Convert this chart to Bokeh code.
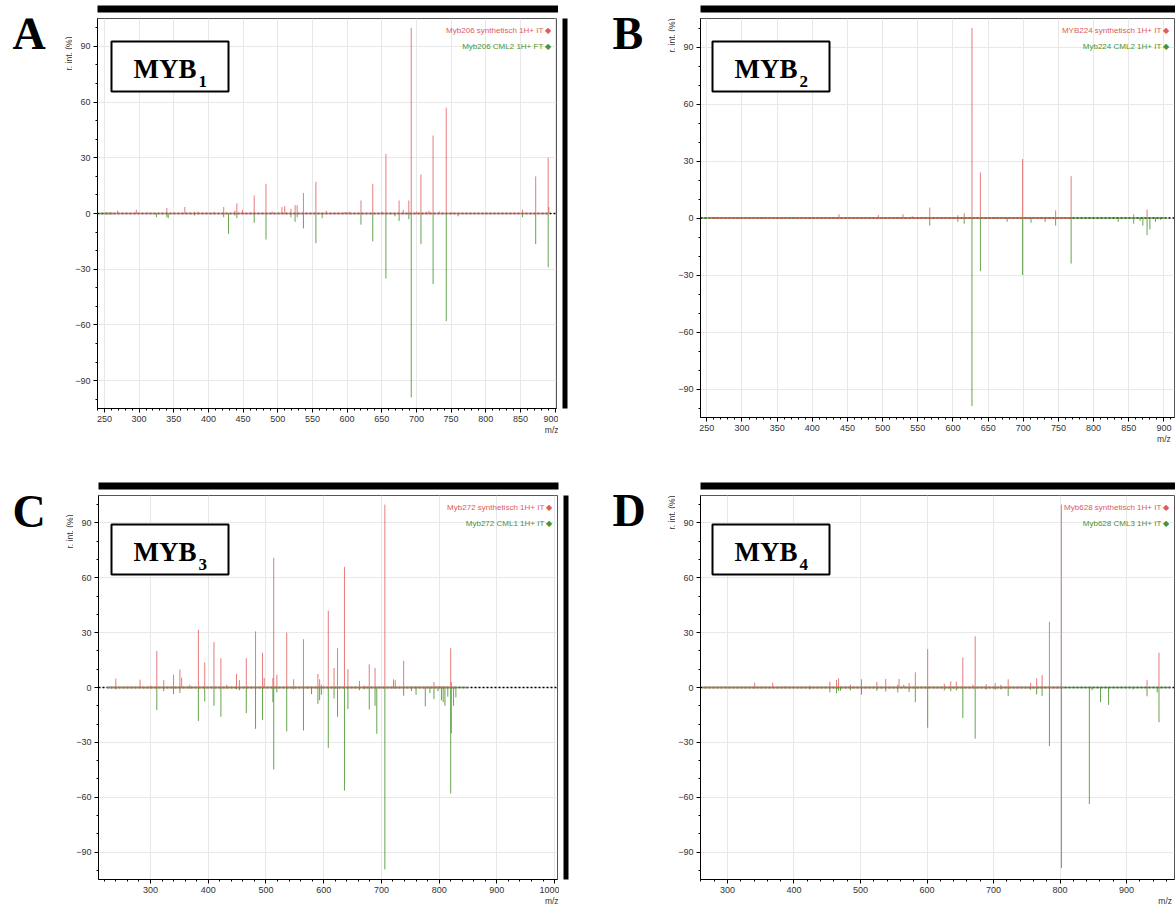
import math
from bokeh.plotting import figure
from bokeh.models import (ColumnDataSource, Range1d, SingleIntervalTicker, FixedTicker, Span,
                          Label, BoxAnnotation, LinearAxis)
from bokeh.layouts import column, row
from bokeh.embed import file_html
from bokeh.resources import INLINE

# ---------------- data (m/z, relative intensity %) ----------------
# Panel A  MYB1 (Myb206)
A_MZ  = [245, 269, 296, 312, 325, 340, 342, 350, 366, 373, 380, 385, 408, 422, 429, 438, 441, 449,
         466, 483, 492, 506, 510, 519, 525, 528, 537, 555, 564, 570, 584, 597, 603, 620, 637, 650,
         656, 669, 675, 681, 689, 692.5, 700, 706.5, 714, 718, 724, 733, 743, 752, 760, 853, 872,
         890, 891]
A_SYN = [0, 1.6, 2, 0.5, 0, 3, 0, 0.5, 3.5, 0.5, 1, 1, 0.8, 3.5, 0, 1.5, 5.5, 2,
         9.7, 16, 1, 3.5, 4, 2.5, 4.5, 4.5, 11, 17, 0, 1.5, 0.5, 0.8, 1, 7, 16, 1,
         32, 0, 7, 2, 7, 100, 1, 21, 1, 1.5, 42, 1, 57, 0.5, 0, 2, 20,
         30, 3.5]
A_CML = [0.5, 0, 0, 0, 2, 2, 2.5, 0, 0, 0, 1, 0, 0, 2, 11, 1, 2.5, 0,
         5, 14, 0, 0, 0, 2, 4.5, 2, 8, 16, 2.5, 0, 0, 0, 0, 6, 15, 0,
         35, 1.5, 4, 0, 3, 99, 0, 16.5, 0, 0, 38, 0, 58, 0, 1.5, 2, 16.5,
         29, 0]
A_SYN_SPAN = [250, 890]
A_CML_SPAN = [243, 262]

# Panel B  MYB2 (Myb224)
B_MZ  = [262, 300, 330, 372, 438, 462, 494, 529, 542, 567, 607, 616, 627, 639, 660, 677, 699,
         711, 731, 746, 768, 800, 835, 857, 866, 870, 876, 880, 888, 895]
B_SYN = [0.5, 0.5, 0.5, 0.5, 2, 0.5, 1.5, 2, 1, 5.5, 1.5, 2.5, 100, 24, 0.5, 0, 31,
         0, 0, 4, 22, 0, 0, 2, 0, 0, 4.5, 0, 0, 0.5]
B_CML = [0.5, 0.5, 0.5, 0.5, 0, 0, 0, 0, 0, 4, 2, 3, 99, 28, 0.5, 2, 30,
         2.5, 2, 4, 24, 0.5, 2, 3, 1.5, 4, 9, 6, 2, 1]
B_SYN_SPAN = [253, 770]
B_CML_SPAN = [243, 905]

# Panel C  MYB3 (Myb272)
C_MZ  = [240, 282, 300, 311, 323, 340, 351, 354, 368, 383, 394, 410, 422, 432, 449, 454, 466,
         482, 494, 497, 512, 513.5, 519, 536, 548, 565, 579, 590, 593, 596, 608, 618, 624, 636,
         642, 662, 671, 679, 689, 692, 706, 721, 724, 738.5, 752, 760, 776, 784, 791, 798, 804,
         807, 810, 815, 820, 821, 825, 829]
C_SYN = [4.9, 4.3, 1, 20, 4, 7, 9.8, 5.4, 1.5, 31.6, 13.7, 24.8, 16, 1.5, 7.4, 4, 16,
         30.7, 19, 5.2, 5.2, 71, 7, 30, 4.5, 26.4, 0.5, 7.4, 4.5, 1.5, 42, 10.7, 21.5, 66,
         10, 3.6, 1, 12.7, 10.7, 0, 100, 4.5, 4, 14.6, 0.5, 0.5, 0.5, 0.5, 3, 0.5, 0.5,
         0.5, 0.5, 0.5, 21.5, 3, 0, 0]
C_CML = [1, 0, 0.5, 12.3, 2, 3.6, 3, 0, 0.5, 18.3, 7.6, 10, 16, 0.5, 1, 1.5, 14,
         22.6, 17.7, 0, 8, 44.8, 2.7, 24, 1, 23.5, 3.6, 9, 7, 4, 33, 6, 16, 56.4,
         11.8, 1.5, 1, 12, 10, 25.3, 99.5, 0.5, 0.5, 4.5, 2, 4, 10.3, 3, 6.3, 2, 7,
         8, 10, 5, 58, 25, 10, 5.4]
C_SYN_SPAN = [225, 830]
C_CML_SPAN = [225, 850]

# Panel D  MYB4 (Myb628)
D_MZ  = [341, 368, 386, 424, 454, 464, 467, 470, 485, 501.5, 524.6, 538, 556, 558, 565, 573,
         582.4, 601, 626, 635.7, 644, 653.8, 668.8, 672.4, 689, 702.5, 711, 722, 755.8, 764.8,
         773, 784, 802, 844, 848, 860.8, 872.9, 904, 910, 930.7, 946, 948.7]
D_SYN = [2.7, 2.7, 0.5, 1, 3.2, 4.1, 5, 0.5, 1.5, 4.5, 3.1, 4.7, 1.5, 4.7, 1.5, 2.5,
         8.3, 21, 2, 3.4, 3.2, 16.5, 1.5, 28, 1.8, 2.5, 1.5, 4.5, 2.5, 5,
         6.8, 36, 100, 0.5, 0, 0, 0, 0.5, 0, 4, 0, 19]
D_CML = [0.5, 0, 0, 1, 2.7, 3.2, 1.8, 1.8, 1.6, 3.8, 1.8, 2.2, 2.7, 0, 0, 2.5,
         8, 22, 1.6, 2.1, 1.6, 16.7, 0, 28, 1.2, 1.3, 1, 4.7, 1.2, 3.8,
         4.7, 32, 98.7, 63.7, 1.5, 8, 9.5, 0, 1, 4.8, 2.7, 19]
D_SYN_SPAN = [262, 805]
D_CML_SPAN = [262, 966]

X_TICK_STEP = {"A": 50, "B": 50, "C": 100, "D": 100}
X_RANGES = {"A": (240, 902), "B": (241, 915), "C": (210, 1005), "D": (259.5, 972)}
Y_RANGE = (-105, 105)

RED = "#e05a5a"
GREEN = "#4a9430"
SANS = "Liberation Sans"
SERIF = "Liberation Serif"


def blank(fw, fh, bl, br, bt, bb, bg=None):
    f = figure(frame_width=fw, frame_height=fh, min_border_left=bl, min_border_right=br,
               min_border_top=bt, min_border_bottom=bb, x_axis_type=None, y_axis_type=None,
               x_range=Range1d(0, 1), y_range=Range1d(0, 1),
               output_backend="svg", toolbar_location=None)
    f.outline_line_color = None
    f.border_fill_color = "white"
    f.background_fill_color = bg if bg else "white"
    return f


def panel(letter, sub, mz, syn, cml, syn_span, cml_span, leg_syn, leg_cml, g):
    # g: geometry dict in page pixels
    x0, y0, ph = g["x0"], g["y0"], g["ph"]
    FL, FT, FW, FH = g["FL"], g["FT"], g["FW"], g["FH"]
    bl_main, br_main = 25, g["br"]
    left_w = FL - bl_main - x0
    main_w = bl_main + FW + br_main
    bb_main = (y0 + ph) - (FT + FH)

    # ----- left strip: panel letter + y-axis title
    lf = blank(left_w, ph, 0, 0, 0, 0)
    lf.add_layout(Label(x=g["letter_x"], y=ph - (g["letter_base"] - y0 - g["letter_adj"]),
                        x_units="screen", y_units="screen", text=letter, text_font=SERIF,
                        text_font_style="bold", text_font_size="46px", text_color="black",
                        text_align="left", text_baseline="middle"))
    lf.add_layout(Label(x=FL - 29 - x0, y=ph - (FT - y0 + 17), x_units="screen",
                        y_units="screen", text="r. int. (%)", angle=math.pi / 2,
                        text_align="center", text_baseline="middle", text_color="#333333",
                        text_font=SANS, text_font_size="8.5px"))

    # ----- top black bar
    bar_l, bar_r = g["bar_l"], g["bar_r"]
    bar_top = g["bar_t"]
    bf = blank(bar_r - bar_l, 7, bar_l - (x0 + left_w), main_w - (bar_l - (x0 + left_w)) - (bar_r - bar_l),
               bar_top - y0, FT - bar_top - 7, bg="black")

    # ----- main spectrum
    xr = X_RANGES[letter]
    p = figure(frame_width=FW, frame_height=FH,
               x_range=Range1d(*xr), y_range=Range1d(*Y_RANGE),
               output_backend="svg", toolbar_location=None,
               min_border_left=bl_main, min_border_right=br_main,
               min_border_top=0, min_border_bottom=bb_main)
    p.background_fill_color = "white"
    p.border_fill_color = "white"
    p.outline_line_color = "#555555"
    p.outline_line_width = 1

    xt = SingleIntervalTicker(interval=X_TICK_STEP[letter], num_minor_ticks=5)
    yt = SingleIntervalTicker(interval=30, num_minor_ticks=3)
    p.xaxis.ticker = xt
    p.xgrid.ticker = xt
    p.yaxis.ticker = yt
    p.ygrid.ticker = yt
    p.grid.grid_line_color = "#e8e8e8"
    p.grid.grid_line_width = 1
    for ax in (p.xaxis, p.yaxis):
        ax.axis_line_color = "black"
        ax.axis_line_width = 1
        ax.major_tick_line_color = "black"
        ax.minor_tick_line_color = "black"
        ax.major_tick_in = 0
        ax.major_tick_out = 4
        ax.minor_tick_in = 0
        ax.minor_tick_out = 2
        ax.major_label_text_font = SANS
        ax.major_label_text_font_size = "9px"
        ax.major_label_text_color = "#333333"
        ax.major_label_standoff = 3

    # "m/z" written under the x tick labels by a second, label-only axis
    mzpos = g["mz_label"]
    mz_axis = LinearAxis(ticker=FixedTicker(ticks=[mzpos]),
                         major_label_overrides={mzpos: "m/z"},
                         axis_line_color=None, major_tick_line_color=None,
                         minor_tick_line_color=None, major_tick_out=0, major_tick_in=0,
                         major_label_standoff=0, major_label_text_font=SANS,
                         major_label_text_font_size="8.5px",
                         major_label_text_color="#333333")
    p.add_layout(mz_axis, "below")

    src = ColumnDataSource(dict(mz=mz, syn=syn, cml=[-v for v in cml]))

    p.add_layout(Span(location=0, dimension="width", line_color="black",
                      line_dash="2 2", line_width=1.5, level="underlay"))
    p.segment(x0=[cml_span[0]], x1=[cml_span[1]], y0=[0], y1=[0],
              line_color=GREEN, line_width=1.5, line_alpha=0.8)
    p.segment(x0=[syn_span[0]], x1=[syn_span[1]], y0=[0], y1=[0],
              line_color=RED, line_width=1.5, line_alpha=0.85)
    p.segment(x0="mz", y0=0, x1="mz", y1="cml", source=src,
              line_color=GREEN, line_width=1, line_alpha=0.85)
    p.segment(x0="mz", y0=0, x1="mz", y1="syn", source=src,
              line_color=RED, line_width=1, line_alpha=0.8)

    # legend texts (top right)
    p.add_layout(Label(x=FW - 5, y=FH - 12, x_units="screen", y_units="screen",
                       text=leg_syn + " \u25c6", text_align="right", text_baseline="middle",
                       text_color=RED, text_font=SANS, text_font_size="8px"))
    p.add_layout(Label(x=FW - 5, y=FH - 28, x_units="screen", y_units="screen",
                       text=leg_cml + " \u25c6", text_align="right", text_baseline="middle",
                       text_color=GREEN, text_font=SANS, text_font_size="8px"))

    # MYB box
    bx, btop = g["box_x"], g["box_top"]
    p.add_layout(BoxAnnotation(left=bx, right=bx + 117, top=FH - btop, bottom=FH - btop - 50,
                               left_units="screen", right_units="screen",
                               bottom_units="screen", top_units="screen",
                               fill_color="white", fill_alpha=1, line_color="black",
                               line_alpha=1, line_width=2))
    p.add_layout(Label(x=bx + 22, y=FH - (btop + 41 - 13.5), x_units="screen", y_units="screen",
                       text="MYB", text_font=SERIF, text_font_style="bold",
                       text_font_size="27px", text_color="black", text_baseline="middle"))
    p.add_layout(Label(x=bx + 87, y=FH - (btop + 47 - 7), x_units="screen", y_units="screen",
                       text=sub, text_font=SERIF, text_font_style="bold",
                       text_font_size="17px", text_color="black", text_baseline="middle"))

    middle = column(bf, p)
    parts = [lf, middle]
    if g.get("rbar"):
        rl, rr = g["rbar"]
        main_right = x0 + left_w + main_w
        rf = blank(rr - rl, FH, rl - main_right, g["pw"] - (rr - x0), FT - y0, bb_main, bg="black")
        parts.append(rf)
    return row(*parts)


GEO = {
    "A": dict(x0=0, y0=0, ph=476, pw=590, FL=97, FT=18, FW=459, FH=390, br=2,
              bar_l=95, bar_r=556, bar_t=5, rbar=(562, 567), letter_base=50,
              letter_x=12, letter_adj=35, box_x=14, box_top=23, mz_label=895),
    "B": dict(x0=590, y0=0, ph=476, pw=585, FL=700, FT=18, FW=474, FH=399, br=1,
              bar_l=698, bar_r=1175, bar_t=5, rbar=None, letter_base=50,
              letter_x=22, letter_adj=17, box_x=12, box_top=23, mz_label=900),
    "C": dict(x0=0, y0=476, ph=434, pw=590, FL=98, FT=495, FW=459, FH=384, br=2,
              bar_l=97, bar_r=557, bar_t=482, rbar=(563, 568), letter_base=527,
              letter_x=12, letter_adj=35, box_x=13, box_top=29, mz_label=995),
    "D": dict(x0=590, y0=476, ph=434, pw=585, FL=700, FT=495, FW=474, FH=384, br=1,
              bar_l=698, bar_r=1175, bar_t=482, rbar=None, letter_base=527,
              letter_x=22, letter_adj=17, box_x=12, box_top=29, mz_label=958),
}

pA = panel("A", "1", A_MZ, A_SYN, A_CML, A_SYN_SPAN, A_CML_SPAN,
           "Myb206 synthetisch 1H+ IT", "Myb206 CML2 1H+ FT", GEO["A"])
pB = panel("B", "2", B_MZ, B_SYN, B_CML, B_SYN_SPAN, B_CML_SPAN,
           "MYB224 synthetisch 1H+ IT", "Myb224 CML2 1H+ IT", GEO["B"])
pC = panel("C", "3", C_MZ, C_SYN, C_CML, C_SYN_SPAN, C_CML_SPAN,
           "Myb272 synthetisch 1H+ IT", "Myb272 CML1 1H+ IT", GEO["C"])
pD = panel("D", "4", D_MZ, D_SYN, D_CML, D_SYN_SPAN, D_CML_SPAN,
           "Myb628 synthetisch 1H+ IT", "Myb628 CML3 1H+ IT", GEO["D"])

layout = column(row(pA, pB), row(pC, pD))
open("out.html", "w").write(file_html(layout, INLINE))
